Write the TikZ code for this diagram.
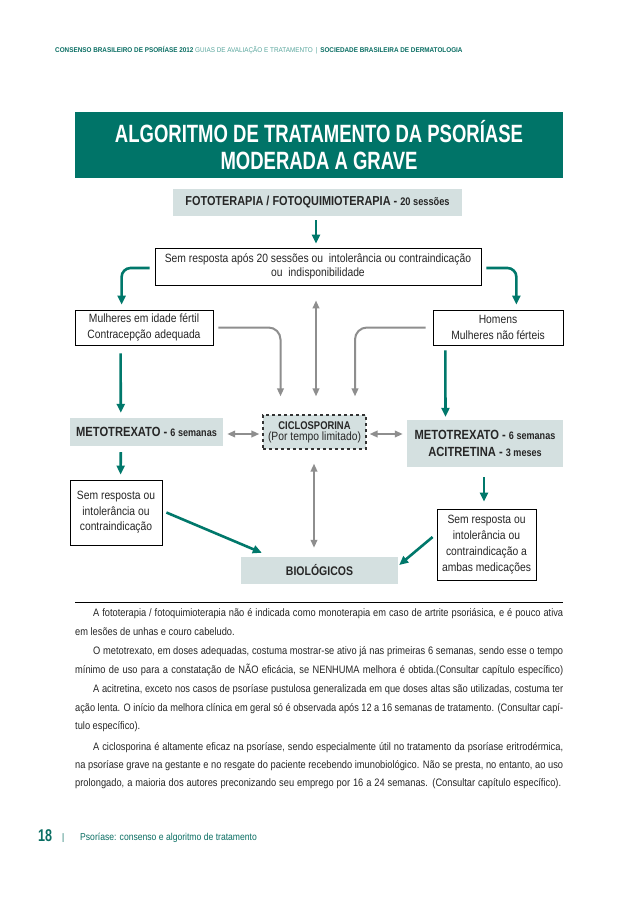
\documentclass[tikz,border=0pt]{standalone}
\usepackage{fontspec}
\setmainfont{Liberation Sans}[FakeStretch=0.86]
\newfontfamily\bc{Liberation Sans}[FakeStretch=0.84]
\newfontfamily\tc{Liberation Sans}[FakeStretch=0.74]
\newfontfamily\hd{Liberation Sans}[FakeStretch=0.92]
\usetikzlibrary{arrows.meta,calc}
\definecolor{tealc}{HTML}{00786B}
\definecolor{titlec}{HTML}{007468}
\definecolor{hdteal}{HTML}{0A6E63}
\definecolor{hdlight}{HTML}{5AA79E}
\definecolor{boxgray}{HTML}{D4E0E0}
\definecolor{arrgray}{HTML}{8E8E8E}
\definecolor{txt}{HTML}{262626}
\newsavebox\jlbox
\newcommand\jl[4]{\node[anchor=base west,inner sep=0] (#1) at (#2) {\sbox\jlbox{#4}\ifdim\wd\jlbox>#3pt\relax\scalebox{\fpeval{#3/(\the\wd\jlbox)}}[1]{\usebox\jlbox}\else\hbox to #3pt{#4}\fi};}
\newcommand\nl[3]{\node[anchor=base west,inner sep=0] (#1) at (#2) {#3};}
\begin{document}
\begin{tikzpicture}[x=1pt,y=-1pt,
  tealarr/.style={draw=tealc,line width=2.6pt,-{Triangle[length=9pt,width=8pt]}},
  grayarr/.style={draw=arrgray,line width=2pt,-{Triangle[length=8pt,width=6.5pt]}},
  graydbl/.style={draw=arrgray,line width=2pt,{Triangle[length=8pt,width=6.5pt]}-{Triangle[length=8pt,width=6.5pt]}},
  whitebox/.style={draw=black,line width=0.8pt,fill=white,inner sep=0pt,align=center,text=txt},
  graybox/.style={fill=boxgray,inner sep=0pt,align=center,text=txt},
  ptext/.style={font=\fontsize{10.8}{12}\selectfont,text=txt}]
\useasboundingbox[fill=white] (0,0) rectangle (638,901);

% header
\node[anchor=base west,inner sep=0] (hdr) at (55,52.5) {\hd\fontsize{6.9}{8}\selectfont
  \textcolor{hdteal}{\bfseries CONSENSO BRASILEIRO DE PSORÍASE 2012} \textcolor{hdlight}{GUIAS DE AVALIAÇÃO E TRATAMENTO \,|\,} \textcolor{hdteal}{\bfseries SOCIEDADE BRASILEIRA DE DERMATOLOGIA}};

% title
\node[fill=titlec,minimum width=488pt,minimum height=66pt,inner sep=0,align=center,text=white,
  font=\tc\bfseries\fontsize{25}{27.5}\selectfont] (title) at (319,145)
  {ALGORITMO DE TRATAMENTO DA PSORÍASE\\MODERADA A GRAVE};

% boxes
\node[graybox,minimum width=289pt,minimum height=27pt] (foto) at (317.5,202.5)
  {\bc\bfseries\fontsize{13}{15}\selectfont FOTOTERAPIA / FOTOQUIMIOTERAPIA - {\fontsize{11}{12}\selectfont 20 sessões}};
\node[whitebox,minimum width=326pt,minimum height=37pt,font=\fontsize{12}{14}\selectfont] (sem20) at (318,266.5)
  {Sem resposta após 20 sessões ou \ intolerância ou contraindicação\\ou \ indisponibilidade};
\node[whitebox,minimum width=138pt,minimum height=35pt,font=\fontsize{12}{16}\selectfont] (mulher) at (144,327.5)
  {Mulheres em idade fértil\\Contracepção adequada};
\node[whitebox,minimum width=130pt,minimum height=35pt,font=\fontsize{12}{16}\selectfont] (homens) at (498,327.5)
  {Homens\\Mulheres não férteis};
\node[graybox,minimum width=153pt,minimum height=28pt] (metL) at (146.5,432)
  {\bc\bfseries\fontsize{13.3}{16}\selectfont METOTREXATO - {\fontsize{10.8}{12}\selectfont 6 semanas}};
\node[graybox,draw=black!80,dashed,line width=1.2pt,minimum width=103pt,minimum height=34pt] (ciclo) at (314.5,432)
  {{\bc\bfseries\fontsize{11.2}{13}\selectfont CICLOSPORINA}\\[-1pt]{\fontsize{12}{13}\selectfont (Por tempo limitado)}};
\node[graybox,minimum width=156pt,minimum height=47pt,font=\bc\bfseries\fontsize{13.3}{17}\selectfont] (metR) at (485,443.5)
  {METOTREXATO - {\fontsize{10.8}{12}\selectfont 6 semanas}\\ACITRETINA - {\fontsize{10.8}{12}\selectfont 3 meses}};
\node[whitebox,minimum width=92pt,minimum height=65pt,font=\fontsize{12}{15.5}\selectfont] (semL) at (116,512.5)
  {Sem resposta ou\\intolerância ou\\contraindicação};
\node[whitebox,minimum width=99pt,minimum height=71pt,font=\fontsize{12}{16}\selectfont] (semR) at (486.5,544.5)
  {Sem resposta ou\\intolerância ou\\contraindicação a\\ambas medicações};
\node[graybox,minimum width=157pt,minimum height=27pt,font=\bc\bfseries\fontsize{12.5}{15}\selectfont] (bio) at (319.5,570.5)
  {BIOLÓGICOS};

% teal arrows
\draw[tealarr] ($(foto.south)+(-1.5,4)$) -- ($(sem20.north)+(-2,-4)$);
\draw[tealarr,rounded corners=9pt] ($(sem20.west)+(-5,1.5)$) -| ($(mulher.north west)+(47,-5)$);
\draw[tealarr,rounded corners=9pt] ($(sem20.east)+(5,1.5)$) -| ($(homens.north east)+(-47,-5)$);
\draw[tealarr] ($(mulher.south west)+(46,8)$) -- ($(metL.north west)+(51,-5)$);
\draw[tealarr] ($(homens.south west)+(12.7,5)$) -- ($(metR.north west)+(38.7,-3)$);
\draw[tealarr] ($(metL.south west)+(51,6)$) -- ($(semL.north west)+(51,-5)$);
\draw[tealarr] ($(metR.south)+(-1,10)$) -- ($(semR.north)+(-2.5,-7)$);
\draw[tealarr] ($(semL.east)+(4,0)$) -- ($(bio.north west)+(21,-4)$);
\draw[tealarr] ($(semR.west)+(-4,-7.5)$) -- ($(bio.east)+(1,-5.5)$);

% gray arrows
\draw[grayarr,rounded corners=12pt] ($(mulher.east)+(5,0)$) -| ($(ciclo.north)+(-34,-18)$);
\draw[grayarr,rounded corners=12pt] ($(homens.west)+(-7,0)$) -| ($(ciclo.north)+(40.5,-18)$);
\draw[graydbl] ($(sem20.south)+(-2,15)$) -- ($(ciclo.north)+(1.5,-18)$);
\draw[graydbl] ($(metL.east)+(4,2)$) -- ($(ciclo.west)+(-3,2)$);
\draw[graydbl] ($(ciclo.east)+(3,2)$) -- ($(ciclo.east -| metR.west)+(-4,2)$);
\draw[graydbl] ($(ciclo.south)+(-0.5,14)$) -- ($(bio.north)+(-5.5,-9)$);

% rule
\coordinate (r1) at (75,602);
\coordinate (r2) at (563,602);
\draw[line width=0.6pt] (r1) -- (r2);

% paragraphs
\begin{scope}[every node/.append style={ptext}]
\jl{p1}{93,616.5}{470}{A fototerapia / fotoquimioterapia não é indicada como monoterapia em caso de artrite psoriásica, e é pouco ativa}
\nl{p2}{75,635.5}{em lesões de unhas e couro cabeludo.}
\jl{p3}{93,654.5}{470}{O metotrexato, em doses adequadas, costuma mostrar-se ativo já nas primeiras 6 semanas, sendo esse o tempo}
\jl{p4}{75,673.5}{488}{mínimo de uso para a constatação de NÃO eficácia, se NENHUMA melhora é obtida.(Consultar capítulo específico)}
\jl{p5}{93,692.5}{470}{A acitretina, exceto nos casos de psoríase pustulosa generalizada em que doses altas são utilizadas, costuma ter}
\jl{p6}{75,711}{488}{ação lenta. O início da melhora clínica em geral só é observada após 12 a 16 semanas de tratamento. (Consultar capí-}
\nl{p7}{75,729.5}{tulo específico).}
\jl{p8}{93,750.5}{470}{A ciclosporina é altamente eficaz na psoríase, sendo especialmente útil no tratamento da psoríase eritrodérmica,}
\jl{p9}{75,768.5}{488}{na psoríase grave na gestante e no resgate do paciente recebendo imunobiológico. Não se presta, no entanto, ao uso}
\jl{p10}{75,786.5}{486}{prolongado, a maioria dos autores preconizando seu emprego por 16 a 24 semanas. (Consultar capítulo específico).}
\end{scope}

% footer
\node[anchor=base west,inner sep=0,text=hdteal] (pg) at (38,841)
  {\tc\bfseries\fontsize{17}{18}\selectfont 18};
\node[anchor=base west,inner sep=0,text=hdteal] (bar) at (62,840)
  {\fontsize{9.5}{11}\selectfont |};
\node[anchor=base west,inner sep=0,text=hdteal] (ft) at (80,840)
  {\fontsize{10}{11}\selectfont Psoríase: consenso e algoritmo de tratamento};
\end{tikzpicture}
\end{document}
